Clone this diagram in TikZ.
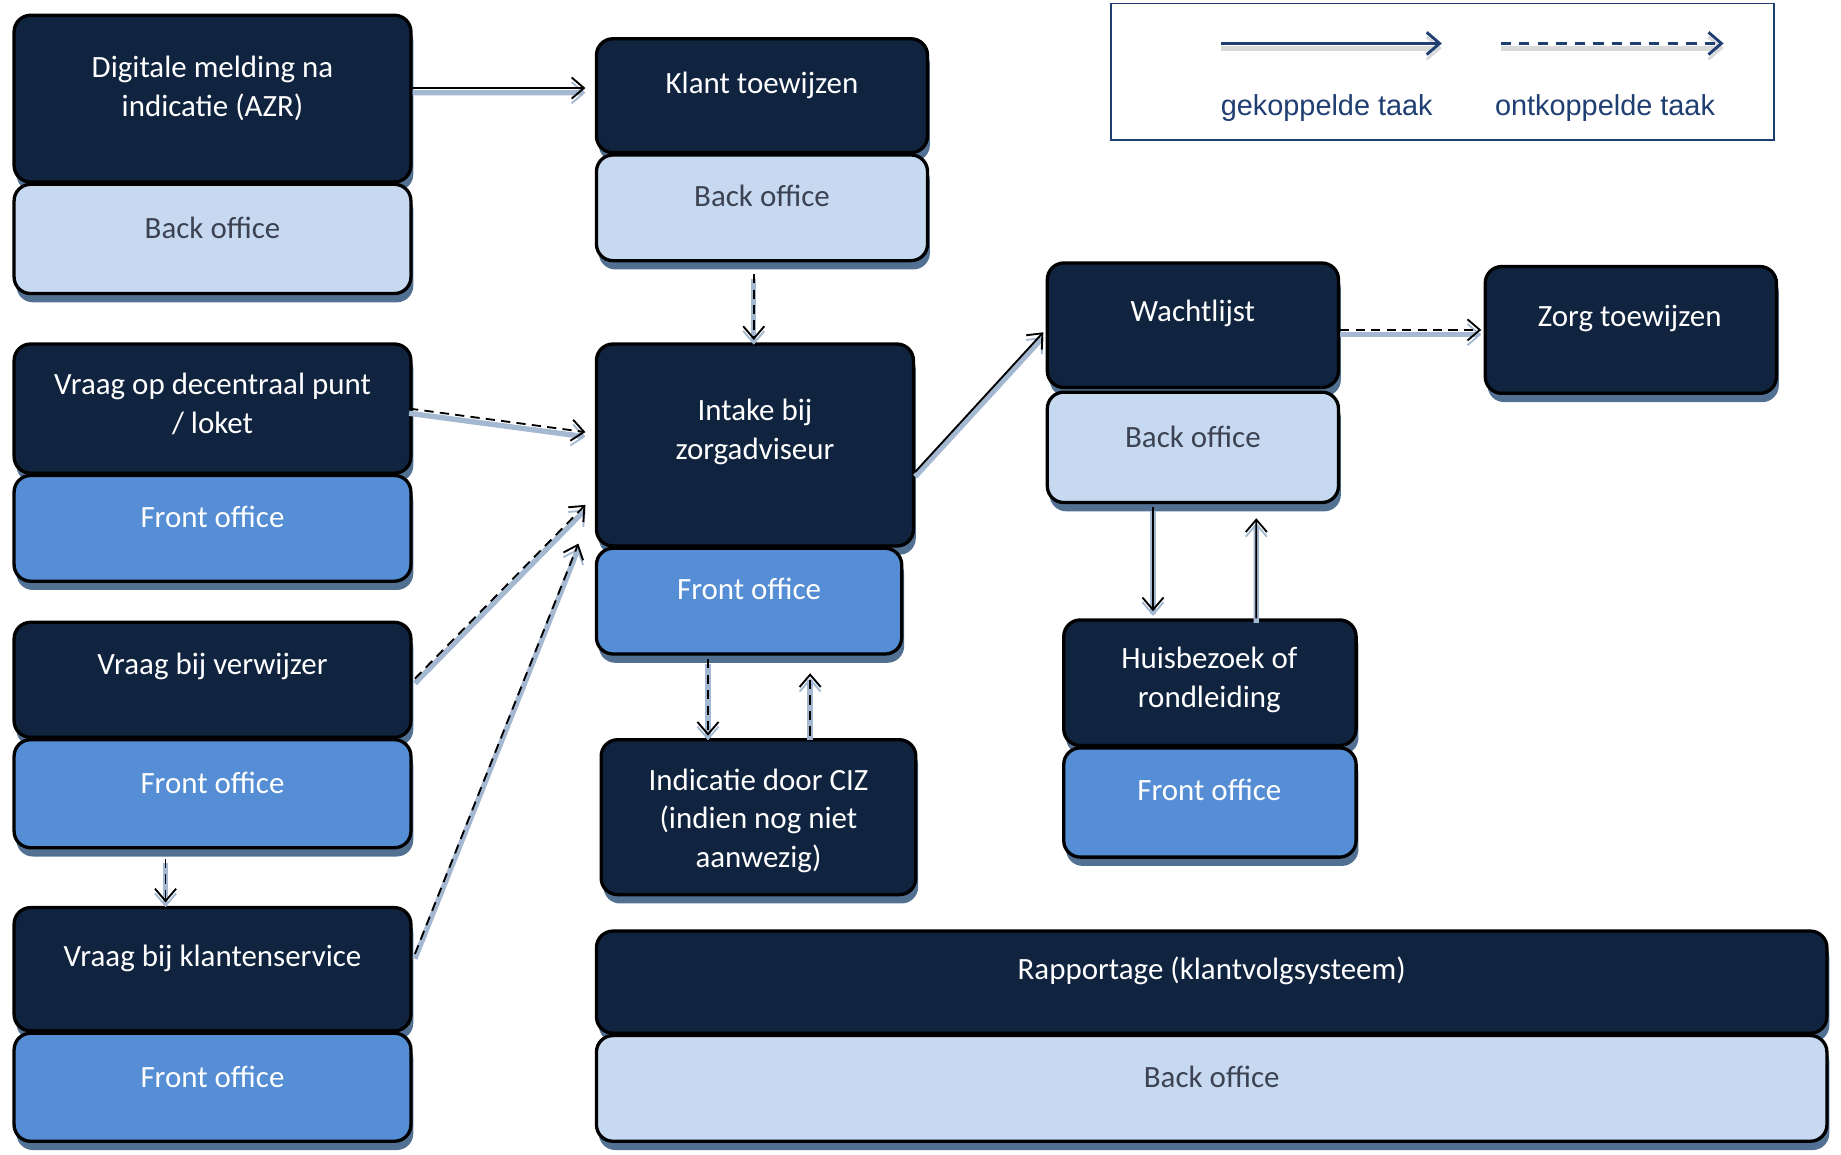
\documentclass[tikz,border=0pt]{standalone}
\usepackage{fontspec}
\setmainfont{Carlito}
\newfontfamily\legfont{Liberation Sans}
\usetikzlibrary{arrows.meta,shadows,fit,calc}
\definecolor{navy}{HTML}{10233F}
\definecolor{backc}{HTML}{C6D9F1}
\definecolor{frontc}{HTML}{558ED5}
\definecolor{shad}{HTML}{1F4E8C}
\definecolor{shadbox}{HTML}{17406D}
\definecolor{legc}{HTML}{1F3E72}
\definecolor{backtxt}{HTML}{3C4252}
\begin{document}
\begin{tikzpicture}[x=0.02cm,y=-0.02cm,
  boxbase/.style={draw=black, line width=1.6pt, rounded corners=8pt, inner sep=0pt,
     drop shadow={shadow xshift=0.04cm, shadow yshift=-0.15cm, fill=shadbox, opacity=0.75}},
  darkbox/.style={boxbase, fill=navy},
  backbox/.style={boxbase, fill=backc},
  frontbox/.style={boxbase, fill=frontc},
  wtxt/.style={text=white, align=center, yshift=-0.04cm, font=\fontsize{15}{18.8}\selectfont},
  btxt/.style={text=backtxt, align=center, yshift=-0.04cm, font=\fontsize{15}{18.8}\selectfont},
  tipstyle/.style={-{Straight Barb[length=0.21cm,width=0.36cm,line width=0.9pt]}},
  solidc/.style={line width=0.9pt, draw=black, tipstyle,
     preaction={draw=shad!40, line width=2.6pt, transform canvas={yshift=-0.08cm}}},
  dashc/.style={solidc, dash pattern=on 4.5pt off 3pt},
  legline/.style={draw=legc, line width=1.4pt, -{Straight Barb[length=0.22cm,width=0.38cm,line width=1.4pt]},
     preaction={draw=black!15, line width=2.4pt, transform canvas={yshift=-0.08cm}}},
  legtxt/.style={text=legc, font=\legfont\fontsize{14}{17}\selectfont}
]
\useasboundingbox (0,0) rectangle (1568,983);

% legend
\node[draw=legc, line width=0.9pt, fill=white, inner sep=0pt, fit={(946,3) (1511,119)}] (leg) {};
\coordinate (ls1) at (1040,37);
\coordinate (ls2) at (1228,37);
\coordinate (ld1) at (1278,37);
\coordinate (ld2) at (1468,37);
\draw[legline] (ls1) -- (ls2);
\draw[legline, dash pattern=on 5pt off 4pt] (ld1) -- (ld2);
\node[legtxt] (lgk) at (1130,92) {gekoppelde taak};
\node[legtxt] (lok) at (1367,92) {ontkoppelde taak};

% Digitale melding
\node[darkbox, fit={(12,13) (350,155)}] (dig) {};
\node[backbox, fit={(12,157) (350,250)}] (digb) {};
\node[wtxt] (digt) at (181,73) {Digitale melding na\\indicatie (AZR)};
\node[btxt] (digbt) at (181,192) {Back office};

% Klant toewijzen
\node[darkbox, fit={(508,33) (790,130)}] (kt) {};
\node[backbox, fit={(508,132) (790,222)}] (ktb) {};
\node[wtxt] (ktt) at (649,71) {Klant toewijzen};
\node[btxt] (ktbt) at (649,165) {Back office};

% Vraag op decentraal punt
\node[darkbox, fit={(12,293) (350,403)}] (vd) {};
\node[frontbox, fit={(12,405) (350,495)}] (vdf) {};
\node[wtxt] (vdt) at (181,342) {Vraag op decentraal punt\\/ loket};
\node[wtxt] (vdft) at (181,438) {Front office};

% Intake
\node[darkbox, fit={(508,293) (778,465)}] (in) {};
\node[frontbox, fit={(508,467) (768,557)}] (inf) {};
\node[wtxt] (intt) at (643,366) {Intake bij\\zorgadviseur};
\node[wtxt] (inft) at (638,500) {Front office};

% Wachtlijst
\node[darkbox, fit={(892,224) (1140,330)}] (wl) {};
\node[backbox, fit={(892,334) (1140,428)}] (wlb) {};
\node[wtxt] (wlt) at (1016,265) {Wachtlijst};
\node[btxt] (wlbt) at (1016,370) {Back office};

% Zorg toewijzen
\node[darkbox, fit={(1265,227) (1513,335)}] (zt) {};
\node[wtxt] (ztt) at (1388,269) {Zorg toewijzen};

% Vraag bij verwijzer
\node[darkbox, fit={(12,530) (350,628)}] (vv) {};
\node[frontbox, fit={(12,630) (350,722)}] (vvf) {};
\node[wtxt] (vvt) at (181,566) {Vraag bij verwijzer};
\node[wtxt] (vvft) at (181,665) {Front office};

% Huisbezoek
\node[darkbox, fit={(906,528) (1155,635)}] (hb) {};
\node[frontbox, fit={(906,637) (1155,730)}] (hbf) {};
\node[wtxt] (hbt) at (1030,577) {Huisbezoek of\\rondleiding};
\node[wtxt] (hbft) at (1030,671) {Front office};

% Indicatie door CIZ
\node[darkbox, fit={(512,630) (780,762)}] (ciz) {};
\node[wtxt] (cizt) at (646,697) {Indicatie door CIZ\\(indien nog niet\\aanwezig)};

% Vraag bij klantenservice
\node[darkbox, fit={(12,773) (350,878)}] (vk) {};
\node[frontbox, fit={(12,880) (350,972)}] (vkf) {};
\node[wtxt] (vkt) at (181,814) {Vraag bij klantenservice};
\node[wtxt] (vkft) at (181,915) {Front office};

% Rapportage
\node[darkbox, fit={(508,793) (1556,880)}] (rp) {};
\node[backbox, fit={(508,882) (1556,972)}] (rpb) {};
\node[wtxt] (rpt) at (1032,825) {Rapportage (klantvolgsysteem)};
\node[btxt] (rpbt) at (1032,915) {Back office};

% connectors
\draw[solidc] ($(dig.east)+(0,-9)$) -- ($(kt.west)+(-8,-6.5)$);
\draw[dashc] ($(ktb.south)+(-7,10)$) -- ($(in.north)+(-1,-2)$);
\draw[dashc] ($(vd.east)+(-3,0)$) -- ($(in.west)+(-8,-11)$);
\draw[dashc] ($(vv.east)+(2,-1)$) -- ($(in.west)+(-8,51)$);
\draw[dashc] ($(vk.east)+(2,-13)$) -- ($(in.west)+(-14,84)$);
\draw[dashc] ($(vvf.south)+(-40,8)$) -- ($(vk.north)+(-40,-3)$);
\draw[solidc] ($(in.east)+(0,23)$) -- ($(wl.west)+(-2,6)$);
\draw[dashc] ($(inf.south)+(-35,3)$) -- ($(ciz.north)+(-43,-2)$);
\draw[dashc] ($(ciz.north)+(44,-2)$) -- ($(inf.south)+(52,15)$);
\draw[solidc] ($(wlb.south)+(-34,2)$) -- ($(hb.north)+(-48.5,-6)$);
\draw[solidc] ($(hb.north)+(39.5,0)$) -- ($(wlb.south)+(54,12)$);
\draw[dashc] ($(wl.east)+(0,4)$) -- ($(zt.west)+(-2,0)$);
\end{tikzpicture}
\end{document}
